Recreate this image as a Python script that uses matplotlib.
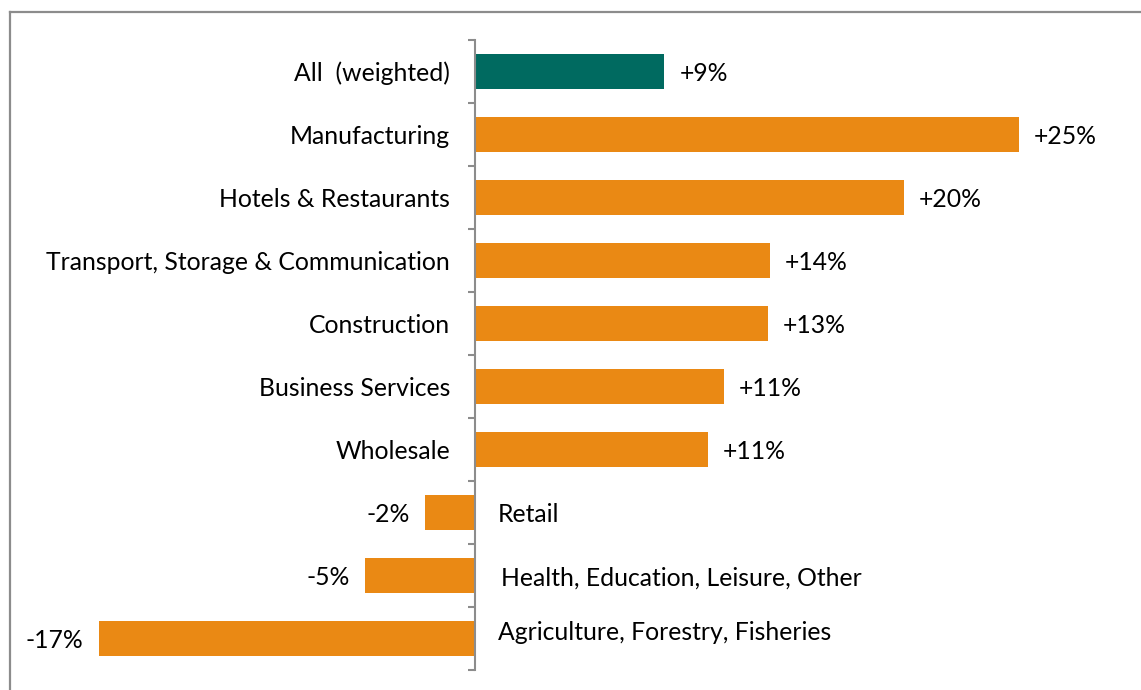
import matplotlib
matplotlib.use("Agg")
import matplotlib.pyplot as plt
from matplotlib.lines import Line2D

plt.rcParams['font.family'] = ['Lato', 'DejaVu Sans']

sectors = [
    "All  (weighted)",
    "Manufacturing",
    "Hotels & Restaurants",
    "Transport, Storage & Communication",
    "Construction",
    "Business Services",
    "Wholesale",
    "Retail",
    "Health, Education, Leisure, Other",
    "Agriculture, Forestry, Fisheries",
]
change = [8.7, 25.0, 19.7, 13.55, 13.45, 11.45, 10.7, -2.3, -5.05, -17.3]

ORANGE = "#EA8914"
TEAL = "#006A60"
AXIS = "#8C8C8C"
FS = 17.8

fig = plt.figure(figsize=(11.41, 6.9), dpi=100)
ax = fig.add_axes([0.0349, 0.029, 0.9536, 0.913])

pos = list(range(len(sectors)))
colors = [TEAL] + [ORANGE] * (len(sectors) - 1)
ax.barh(pos, change, height=0.57, color=colors)

ax.set_xlim(-20, 30)
ax.set_ylim(len(sectors) - 0.5, -0.5)

# small pixel nudges for the names that sit right of the axis
name_shift = {7: (23, -2), 8: (26, -3), 9: (23, 6)}

for i, (name, v) in enumerate(zip(sectors, change)):
    label = f"{v:+.0f}%"
    # labels go on the opposite side of the axis from the bar
    if v >= 0:
        ax.annotate(name, xy=(0, i), xytext=(-25, -2), textcoords="offset pixels",
                    ha="right", va="center", fontsize=FS)
        ax.annotate(label, xy=(v, i), xytext=(15, -2), textcoords="offset pixels",
                    ha="left", va="center", fontsize=FS)
    else:
        ax.annotate(name, xy=(0, i), xytext=name_shift[i], textcoords="offset pixels",
                    ha="left", va="center", fontsize=FS)
        ax.annotate(label, xy=(v, i), xytext=(-15, -2), textcoords="offset pixels",
                    ha="right", va="center", fontsize=FS)

for s in ["top", "right", "bottom"]:
    ax.spines[s].set_visible(False)
ax.spines["left"].set_position(("data", 0))
ax.spines["left"].set_color(AXIS)
ax.spines["left"].set_linewidth(1.5)
ax.set_xticks([])
ax.set_yticks([p - 0.5 for p in pos] + [len(sectors) - 0.5])
ax.set_yticklabels([])
ax.tick_params(axis="y", direction="out", length=5, width=1.5, color=AXIS)

# outer frame, partly cut off at the right and bottom
fig.add_artist(Line2D([0.0088, 1.0], [0.983, 0.983], color=AXIS, lw=1.6))
fig.add_artist(Line2D([0.0088, 0.0088], [0.0, 0.983], color=AXIS, lw=1.6))

fig.savefig("out.png", dpi=100)
